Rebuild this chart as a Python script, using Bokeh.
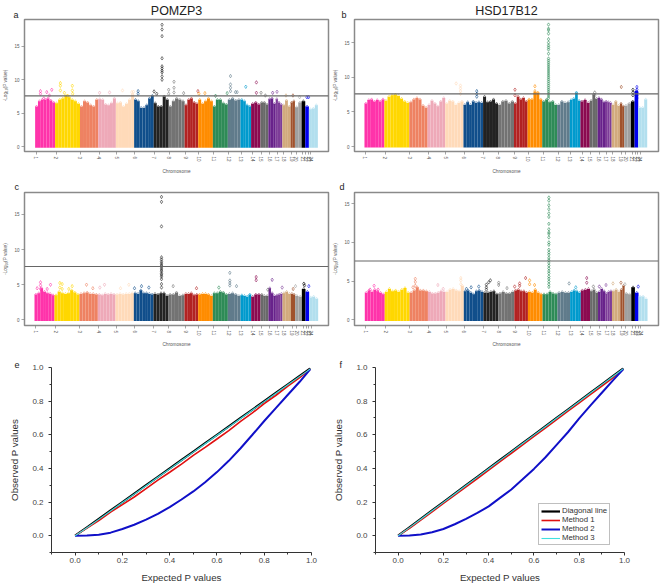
from bokeh.plotting import figure
from bokeh.layouts import column, row
from bokeh.models import Title, Span, FixedTicker, Legend, LegendItem, Range1d, NumeralTickFormatter
from bokeh.embed import file_html
from bokeh.resources import INLINE

chr_labels = [str(i) for i in range(1, 25)]
chr_ticks = [105,165,238,295,347,402,460,505,555,595,640,685,722,757,782,808,830,850,875,888,908,917,925,932]
chr_bounds = [102,162,237,292,345,400,459,504,552,593,637,682,720,752,780,804,826,846,871,884,904,915,926,953]
chr_colors = ["#FF33AA","#FFD700","#EE8262","#EEA9B8","#FFDAB9","#104E8B","#222222","#737373","#B22222","#FF8C00",
              "#2E8B57","#607B8B","#009ACD","#8B0A50","#696969","#68228B","#7D3C98","#D2AA7D","#A0522D","#A0A0A0",
              "#000000","#0000EE","#B2DFEE"]

a_tops = [[6.0,6.8,7.0,7.0,7.2,6.9,6.6],[6.5,7.0,7.2,7.6,7.4,7.0,6.8,6.4],[6.0,6.8,6.6,6.2,6.0,7.0],[7.1,7.0,6.3,6.2,6.5,7.2],
          [6.5,6.6,6.0,6.4,7.0,7.8],[7.0,6.8,5.8,5.8,6.2,7.2,7.6],[6.5,6.0,6.0,7.5,7.0],[6.0,6.8,7.2,7.0,6.8],[6.2,7.0,7.2,6.6,6.4],
          [7.0,6.4,6.8,7.2,6.8],[6.0,7.0,7.0,6.5,6.3],[7.0,7.2,6.9,7.0],[7.0,6.8,6.2,6.0],[6.4,6.6,6.3],[6.6,6.6,6.3],[7.1,7.2,6.4],
          [7.1,6.6,6.3],[6.2,6.9,6.0],[6.6,6.8],[5.9,6.6],[6.8],[6.0],[5.6,5.7,6.2]]
b_tops = [[6.2,6.7,6.8,6.5,6.7,6.5,6.8],[6.6,7.2,7.4,7.5,7.3,6.9,6.5,6.3],[6.4,6.8,7.0,6.8,5.9,5.6],[6.0,6.6,6.2,5.8,6.5,7.0],
          [6.2,6.6,6.5,6.0,6.3,6.5],[6.0,6.4,6.0,6.5,6.3,6.4,6.3],[7.2,6.4,6.5,6.8,6.2],[6.0,6.5,6.6,6.2,6.5],[6.2,7.2,6.8,7.0,6.5],
          [6.8,6.8,7.8,7.8,6.8],[6.5,6.8,6.4,6.5,6.0],[6.0,6.5,6.3,6.4],[6.7,6.9,7.8,6.6],[6.5,6.7,6.3],[6.6,7.5,6.9],[7.0,6.8,6.4],
          [6.5,6.4,6.3],[6.0,6.5,5.9],[6.2,5.8],[5.9,6.2],[6.5],[8.0],[5.6,5.6,6.8]]
c_tops = [[3.6,3.8,4.5,4.0,3.8,3.7,3.5],[3.5,4.0,3.8,3.7,3.8,4.2,3.9,3.6],[3.7,3.8,3.9,3.7,3.7,3.6],[3.6,3.5,3.7,3.6,3.7,3.6],
          [3.6,3.7,3.6,3.7,3.7,3.8],[3.8,3.7,4.2,3.8,3.8,3.7,3.6],[3.7,3.6,3.8,3.8,3.4],[3.6,3.6,3.9,3.4,3.5],[3.7,3.7,3.8,3.5,3.6],
          [3.6,3.7,3.7,3.6,3.4],[3.8,3.8,4.0,3.9,3.6],[3.7,3.8,3.6,3.4],[3.5,3.4,3.3,3.6],[3.3,3.6,3.6],[3.6,3.4,3.4],[4.5,3.8,3.4],
          [3.5,3.6,3.7],[3.8,4.0,3.7],[3.7,3.6],[3.4,3.3],[4.4],[4.0],[3.2,3.3,3.0]]
d_tops = [[3.5,3.8,3.6,3.9,3.7,3.5,3.3],[3.6,4.0,3.7,3.8,3.6,3.9,4.1,3.5],[3.5,3.8,4.2,3.8,3.8,3.7],[3.6,3.4,3.4,3.5,3.7,3.6],
          [3.6,3.9,4.0,3.8,3.7,4.4],[3.7,3.8,3.5,3.3,3.7,3.8,3.6],[3.5,3.5,3.6,3.7,3.3],[3.4,3.6,3.4,3.4,3.6],[3.8,3.9,3.7,3.7,3.5],
          [3.6,3.5,3.9,3.5,3.3],[3.3,3.3,3.6,3.4,3.3],[3.5,3.6,3.5,3.5],[3.6,3.8,3.7,3.5],[3.8,3.9,4.0],[3.7,3.9,3.5],[3.6,4.0,3.7],
          [3.4,3.6,3.7],[3.7,3.9,3.6],[3.9,4.4],[3.4,3.3],[4.2],[3.5],[3.0,3.0,2.7]]

a_pts_x = [118,118,137,152,145,128,178,178,178,190,214,214,215,200,296,326,365,393,398,412,412,460,468,
           484,484,484,484,484,484,484,484,484,484,504,504,520,520,520,549,592,595,613,645,
           690,690,690,690,680,705,710,736,768,768,782,795,817,830,857,878,898,920,925]
a_pts_y = [8.3,7.9,8.15,8.5,7.65,7.2,9.5,9.1,8.4,8.05,9.1,8.4,7.9,7.6,8.05,8.1,8.4,8.15,8.2,8.3,7.9,8.25,7.9,
           18.2,17.5,16.5,13.2,12.0,11.7,11.35,11.1,10.5,10.0,8.5,7.9,9.7,8.8,8.1,8.0,8.3,7.9,8.0,7.6,
           10.55,9.3,8.8,8.3,8.0,8.15,8.15,8.95,9.6,8.05,8.05,7.65,8.05,8.2,7.65,7.65,7.4,7.4,7.4]
b_pts_x = [391,391,391,391,378,440,440,440,555,555,615,615,615,875,922,922,922,922,922,910,910,910,795,795,
           656,656,656,656,656,656,656,656,656,656,656,656,656,656,656,656,656,656,656,656,656,656,656,656,656,656,656,656,656,656]
b_pts_y = [8.8,8.4,8.0,7.6,9.1,8.0,7.6,7.2,8.2,7.4,8.7,8.0,7.6,8.6,8.6,8.2,7.8,7.4,7.0,8.2,7.8,7.4,7.8,7.4,
           7.0,7.3,7.6,7.9,8.2,8.5,8.8,9.1,9.4,9.7,10.0,10.3,10.6,10.9,11.2,11.5,11.8,12.1,12.4,12.7,13.4,14.0,14.3,14.6,15.0,15.5,16.3,16.8,17.0,17.6]
c_pts_x = [120,120,120,150,140,110,178,185,178,185,215,205,258,277,312,298,385,360,402,423,445,518,588,655,
           483,483,483,483,483,483,483,483,483,483,483,483,483,483,483,483,483,483,
           688,688,688,688,708,767,767,815,802,845,885,910,912,925,878]
c_pts_y = [5.35,4.9,4.4,5.0,4.4,4.5,5.25,5.1,4.6,4.4,4.8,4.4,5.0,4.5,5.0,4.6,5.0,4.5,4.5,4.8,4.6,4.8,4.5,4.6,
           17.5,16.8,13.3,8.9,8.6,8.3,8.05,7.8,7.6,7.35,7.1,6.9,6.6,6.4,6.15,5.8,5.1,4.6,
           6.7,5.6,5.25,4.9,4.8,6.1,5.65,5.7,4.3,4.6,4.8,5.15,4.9,4.8,4.4]
d_pts_x = [130,118,142,254,254,254,247,322,391,391,391,338,408,422,445,468,468,468,480,475,505,505,530,568,568,586,598,598,553,613,
           656,656,656,656,656,656,656,656,656,656,656,656,656,656,656,656,656,656,656,656,656,656,656,656,656,656,656,656,
           717,737,770,770,790,808,828,849,873,885,925]
d_pts_y = [4.4,3.9,3.9,5.3,4.9,4.4,4.2,4.5,5.4,5.1,4.6,4.0,4.0,4.2,4.3,4.55,4.2,3.9,5.1,4.85,4.8,4.5,4.1,4.7,4.4,5.4,5.1,4.6,4.3,4.5,
           15.8,15.4,14.8,14.3,13.75,13.3,12.4,11.7,11.3,11.1,10.65,10.0,9.7,9.05,8.7,8.4,8.0,7.7,7.35,7.0,6.65,6.3,6.0,5.6,5.3,4.95,4.6,4.25,
           4.7,4.2,5.4,4.8,4.3,4.3,4.5,4.7,4.8,4.6,4.3]

threshold = 7.6
expected = [0,.05,.1,.15,.2,.25,.3,.35,.4,.45,.5,.55,.6,.65,.7,.75,.8,.85,.9,.95,.995]
diagonal = [0,.05,.1,.15,.2,.25,.3,.35,.4,.45,.5,.55,.6,.65,.7,.75,.8,.85,.9,.95,.995]
e_method1 = [0,.045,.09,.14,.185,.23,.28,.33,.377,.425,.477,.525,.575,.625,.68,.73,.785,.835,.89,.94,.99]
e_method2 = [0,.001,.006,.018,.04,.065,.095,.13,.17,.215,.263,.318,.378,.445,.52,.6,.682,.76,.838,.915,.99]
e_method3 = [0,.047,.097,.147,.197,.247,.297,.347,.397,.447,.497,.547,.597,.647,.697,.747,.797,.847,.897,.947,.992]
f_method1 = [0,.044,.093,.142,.192,.241,.291,.34,.39,.44,.49,.54,.59,.64,.69,.74,.79,.84,.89,.94,.99]
f_method2 = [0,.001,.007,.02,.04,.068,.1,.135,.174,.225,.275,.335,.397,.465,.54,.615,.697,.775,.85,.925,.99]
f_method3 = [0,.048,.098,.148,.198,.248,.298,.348,.398,.448,.498,.548,.598,.648,.698,.748,.798,.848,.898,.948,.993]
legend_labels = ["Diagonal line", "Method 1", "Method 2", "Method 3"]
p_ticks = [0, .2, .4, .6, .8, 1.0]
p_minor = [-.1, .1, .3, .5, .7, .9]

FONT = "Liberation Sans"


def letter_title(text, offset, standoff):
    return Title(text=text, align="left", offset=offset, standoff=standoff, vertical_align="top", text_font=FONT,
                 text_font_size="9px", text_font_style="normal", text_color="#222222")


def manhattan(tops, px, py, yticks, xr, yr, left, top, bottom, width, height, letter, letter_off, letter_so,
              title=None, label_so=4):
    p = figure(width=width, height=height, output_backend="svg", toolbar_location=None,
               x_range=Range1d(*xr), y_range=Range1d(*yr), border_fill_color=None,
               min_border_left=left, min_border_right=width - left - 305, min_border_top=top, min_border_bottom=bottom)
    p.grid.visible = False
    p.outline_line_color = "#8a8a8a"
    p.outline_line_width = 1.5
    lefts, rights, ys, cols, mids = [], [], [], [], []
    for i, vals in enumerate(tops):
        step = (chr_bounds[i + 1] - chr_bounds[i]) / len(vals)
        for j, v in enumerate(vals):
            lefts.append(chr_bounds[i] + j * step)
            rights.append(chr_bounds[i] + (j + 1) * step)
            mids.append(chr_bounds[i] + (j + .5) * step)
            ys.append(v)
            cols.append(chr_colors[i])
    p.quad(left=lefts, right=rights, bottom=-0.15, top=ys, fill_color=cols, line_color=None)
    p.scatter(mids, ys, marker="diamond", size=3, fill_color=None, line_color=cols, line_width=0.7, line_alpha=0.7)
    ptcols = []
    for x in px:
        k = 0
        while k < 22 and x >= chr_bounds[k + 1]:
            k += 1
        ptcols.append(chr_colors[k])
    p.scatter(px, py, marker="diamond", size=3.5, fill_color=None, line_color=ptcols, line_width=0.7, line_alpha=0.85)
    p.add_layout(Span(location=threshold, dimension="width", line_color="#666666", line_width=1.2))

    xa = p.xaxis[0]
    xa.ticker = FixedTicker(ticks=chr_ticks)
    xa.major_label_overrides = {t: l for t, l in zip(chr_ticks, chr_labels)}
    xa.major_label_orientation = "vertical"
    xa.axis_label = "Chromosome"
    ya = p.yaxis[0]
    ya.ticker = FixedTicker(ticks=yticks)
    ya.axis_label = "-Log\u2081\u2080(P value)"
    for ax in (xa, ya):
        ax.axis_line_color = None
        ax.major_tick_line_color = "#808080"
        ax.major_tick_line_width = 0.7
        ax.major_tick_out = 3
        ax.major_tick_in = 0
        ax.minor_tick_line_color = None
        ax.major_label_text_font = FONT
        ax.major_label_text_font_size = "4.5px"
        ax.major_label_text_color = "#555555"
        ax.major_label_standoff = 2
        ax.axis_label_text_font = FONT
        ax.axis_label_text_font_size = "4.7px"
        ax.axis_label_text_font_style = "normal"
        ax.axis_label_text_color = "#555555"
        ax.axis_label_standoff = 3
    xa.axis_label_standoff = label_so
    p.add_layout(letter_title(letter, letter_off, letter_so), "above")
    if title:
        p.add_layout(Title(text=title, align="center", standoff=-16.5, vertical_align="top", text_font=FONT,
                           text_font_size="12.5px", text_font_style="normal", text_color="#222222"), "above")
    return p


def qq(m1, m2, m3, left, right, top, bottom, width, letter, letter_off, show_legend=False):
    p = figure(width=width, height=250, output_backend="svg", toolbar_location=None,
               x_range=Range1d(-.1, 1.0), y_range=Range1d(-.1, 1.0), border_fill_color=None,
               min_border_left=left, min_border_right=right, min_border_top=top, min_border_bottom=bottom)
    p.grid.visible = False
    p.outline_line_color = None
    r0 = p.line(expected, diagonal, line_color="black", line_width=2.2)
    r1 = p.line(expected, m1, line_color="#E01010", line_width=1.6)
    r2 = p.line(expected, m2, line_color="#1010C8", line_width=2)
    r3 = p.line(expected, m3, line_color="#40E0E0", line_width=1.1)
    for ax, lab in ((p.xaxis[0], "Expected P values"), (p.yaxis[0], "Observed P values")):
        ax.ticker = FixedTicker(ticks=p_ticks, minor_ticks=p_minor)
        ax.formatter = NumeralTickFormatter(format="0.0")
        ax.axis_label = lab
        ax.axis_line_color = "#333333"
        ax.major_tick_line_color = "#333333"
        ax.minor_tick_line_color = "#333333"
        ax.major_tick_out = 3
        ax.major_tick_in = 0
        ax.minor_tick_out = 2
        ax.minor_tick_in = 0
        ax.major_label_text_font = FONT
        ax.major_label_text_font_size = "8px"
        ax.major_label_text_color = "#444444"
        ax.axis_label_text_font = FONT
        ax.axis_label_text_font_size = "9.7px"
        ax.axis_label_text_font_style = "normal"
        ax.axis_label_text_color = "#333333"
    p.xaxis[0].major_label_standoff = 2
    p.xaxis[0].axis_label_standoff = 6
    p.yaxis[0].major_label_standoff = 5
    p.yaxis[0].axis_label_standoff = 9
    p.yaxis[0].major_label_orientation = "horizontal"
    if show_legend:
        lg = Legend(items=[LegendItem(label=l, renderers=[r]) for l, r in zip(legend_labels, (r0, r1, r2, r3))],
                    location=(163, 7), orientation="vertical", background_fill_color="white", background_fill_alpha=1,
                    border_line_color="#808080", border_line_width=1, label_text_font=FONT, label_text_font_size="7.8px",
                    label_text_color="#333333", glyph_width=19, glyph_height=8, label_height=8, label_standoff=2,
                    spacing=0, padding=2, margin=0)
        p.add_layout(lg)
    spacer = letter_title(".", letter_off, -5.5)
    spacer.text_alpha = 0
    p.add_layout(spacer, "above")
    p.add_layout(letter_title(letter, letter_off, -10.5), "above")
    return p


pa = manhattan(a_tops, a_pts_x, a_pts_y, [0, 5, 10, 15], (70, 985), (-0.71, 18.99), 23, 22, 25, 330, 179, "a", -11, -5.5,
               "POMZP3", 4)
pb = manhattan(b_tops, b_pts_x, b_pts_y, [0, 5, 10, 15], (72, 987), (-0.72, 18.34), 23, 22, 25, 331, 179, "b", -13, -5.5,
               "HSD17B12", 4)
pc = manhattan(c_tops, c_pts_x, c_pts_y, [0, 5, 10, 15], (72, 984), (-0.8, 18.13), 23, 22, 25, 330, 180, "c", -10, -4.5, None, 3)
pd = manhattan(d_tops, d_pts_x, d_pts_y, [0, 5, 10, 15], (71, 986), (-0.73, 16.45), 23, 22, 25, 331, 180, "d", -15, -4.5, None, 3)
pe = qq(e_method1, e_method2, e_method3, 51, 19, 30, 32, 330, "e", -37)
pf = qq(f_method1, f_method2, f_method3, 44, 37, 32, 32, 331, "f", -36, True)

root = column(row(pa, pb, spacing=0),
              row(pc, pd, spacing=0, margin=(-6, 0, 0, 0)),
              row(pe, pf, spacing=0, margin=(-15, 0, 0, 0)),
              spacing=0, margin=(-3, 0, 0, 0))
open("out.html", "w").write(file_html(root, INLINE))
